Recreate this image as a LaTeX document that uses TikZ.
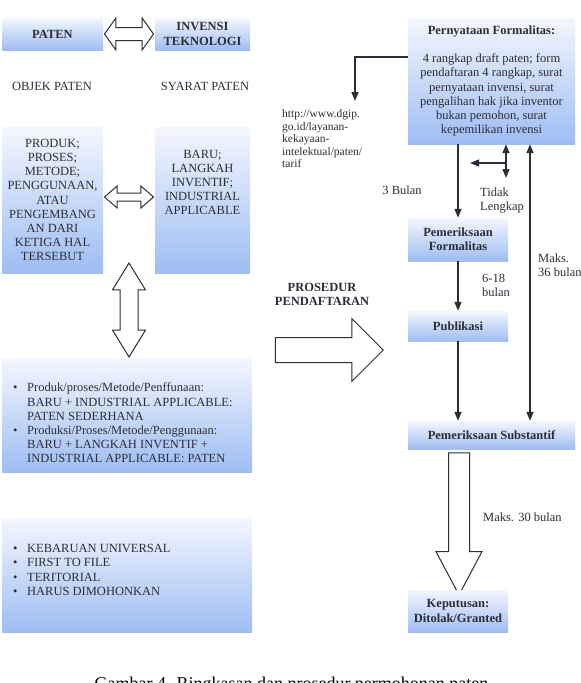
\documentclass[tikz,border=0pt]{standalone}
\usepackage{fontspec}
\setmainfont{Liberation Serif}
\usetikzlibrary{arrows.meta, shapes.arrows, positioning}
\definecolor{boxtop}{RGB}{243,247,254}
\definecolor{boxbot}{RGB}{158,189,243}
\definecolor{ink}{RGB}{45,45,55}
\newcommand{\bsize}{\fontsize{12.5}{14.2}\selectfont}
\newcommand{\ssize}{\fontsize{11.5}{12.5}\selectfont}
\newcommand{\itm}{\makebox[14pt][l]{\textbullet}}

\begin{document}
\begin{tikzpicture}[x=1pt, y=-1pt,
    >={Triangle[length=9pt,width=7pt]},
    boxnode/.style={top color=boxtop, bottom color=boxbot, draw=none, inner sep=0pt, align=center, text=ink, font=\bsize},
    plain/.style={text=ink, font=\bsize, inner sep=0pt},
    conn/.style={draw=ink, line width=1.4pt},
    hollow/.style={draw=ink, line width=1pt, fill=white, inner xsep=0pt}]
  \useasboundingbox (0,0) rectangle (581,683);

  % Left column
  \node[boxnode, minimum width=101, minimum height=32, font=\bsize\bfseries] (paten) at (52.5,34) {PATEN};
  \node[boxnode, minimum width=95, minimum height=32, font=\bsize\bfseries] (invensi) at (202.5,34) {INVENSI\\TEKNOLOGI};
  \node[plain] (objek) at (52,86) {OBJEK PATEN};
  \node[plain] (syarat) at (205,86) {SYARAT PATEN};

  \node[boxnode, minimum width=101, minimum height=146] (produk) at (52.5,200)
    {PRODUK;\\PROSES;\\METODE;\\PENGGUNAAN,\\ATAU\\PENGEMBANG\\AN DARI\\KETIGA HAL\\TERSEBUT};
  \node[boxnode, minimum width=95, minimum height=146] (baru) at (202.5,200) {};
  \node[plain, align=center] (barutext) at (202.5,182.5)
    {BARU;\\LANGKAH\\INVENTIF;\\INDUSTRIAL\\APPLICABLE};

  \node[boxnode, minimum width=250, minimum height=114] (kriteria) at (127,415) {};
  \node[plain, align=left, anchor=west] (kriteriatext) at (13,423)
    {\itm Produk/proses/Metode/Penffunaan:\\
     \hspace*{14pt}BARU + INDUSTRIAL APPLICABLE:\\
     \hspace*{14pt}PATEN SEDERHANA\\
     \itm Produksi/Proses/Metode/Penggunaan:\\
     \hspace*{14pt}BARU + LANGKAH INVENTIF +\\
     \hspace*{14pt}INDUSTRIAL APPLICABLE: PATEN};

  \node[boxnode, minimum width=250, minimum height=114] (prinsip) at (127,575) {};
  \node[plain, align=left, anchor=west] (prinsiptext) at (13,570)
    {\itm KEBARUAN UNIVERSAL\\
     \itm FIRST TO FILE\\
     \itm TERITORIAL\\
     \itm HARUS DIMOHONKAN};

  % Block arrows
  \node[hollow, double arrow, inner ysep=6, minimum height=49, minimum width=31,
        double arrow head extend=9.5, double arrow tip angle=109] (pair1) at (129,34) {};
  \node[hollow, double arrow, inner ysep=3.5, minimum height=49, minimum width=21,
        double arrow head extend=7, double arrow tip angle=82] (pair2) at (129,197) {};
  \node[hollow, double arrow, rotate=90, inner ysep=8.5, minimum height=94, minimum width=32,
        double arrow head extend=7.5, double arrow tip angle=63] (pair3) at (129,310) {};
  \node[hollow, single arrow, inner ysep=12, minimum height=108, minimum width=62,
        single arrow head extend=19, single arrow tip angle=90] (proarrow) at (323,350) {};
  \node[hollow, single arrow, rotate=-90, inner ysep=10, minimum height=142, minimum width=45,
        single arrow head extend=12.5, single arrow tip angle=56] (decarrow) at (459,514) {};
  \node[plain, font=\bsize\bfseries, align=center] (prosedur) at (322,294) {PROSEDUR\\PENDAFTARAN};

  % Right column
  \node[boxnode, minimum width=167, minimum height=126] (pern) at (491.5,81)
    {\textbf{Pernyataan Formalitas:}\\[14pt]
     4 rangkap draft paten; form\\pendaftaran 4 rangkap, surat\\pernyataan invensi, surat\\
     pengalihan hak jika inventor\\bukan pemohon, surat\\kepemilikan invensi};
  \node[boxnode, minimum width=100, minimum height=43, font=\bsize\bfseries] (pform) at (458,239.5) {Pemeriksaan\\Formalitas};
  \node[boxnode, minimum width=100, minimum height=30, font=\bsize\bfseries] (pub) at (458,326) {Publikasi};
  \node[boxnode, minimum width=167, minimum height=28, font=\bsize\bfseries] (psub) at (491.5,435) {Pemeriksaan Substantif};
  \node[boxnode, minimum width=100, minimum height=42, font=\bsize\bfseries] (kep) at (458,611) {Keputusan:\\Ditolak/Granted};

  \node[plain, font=\ssize, align=left, anchor=west] (url) at (282,139)
    {http://www.dgip.\\go.id/layanan-\\kekayaan-\\intelektual/paten/\\tarif};
  \node[plain] (tigabulan) at (402,190) {3 Bulan};
  \node[plain, align=left, anchor=west] (tidaktext) at (480,200.5) {Tidak\\Lengkap};
  \node[plain, align=left, anchor=west] (makstiga) at (538,265) {Maks.\\36 bulan};
  \node[plain, align=left, anchor=west] (enambulan) at (482,285.5) {6-18\\bulan};
  \node[plain, anchor=west] (maksdua) at (483,517) {Maks. 30 bulan};

  % Connectors
  \coordinate (urlend) at (355,101);
  \coordinate (tidak) at (506,178);
  \coordinate (tidakbr) at (506,163);
  \coordinate (tidakend) at (470,163);
  \coordinate (maksx) at (530,0);
  \draw[conn, ->] ([yshift=24pt]pern.west) -| (urlend);
  \draw[conn, ->] (pform.north |- pern.south) -- (pform.north);
  \draw[conn, <->] (pern.south -| tidak) -- (tidak);
  \draw[conn, ->] (tidakbr) -- (tidakend);
  \draw[conn, <->] (pern.south -| maksx) -- (psub.north -| maksx);
  \draw[conn, ->] (pform.south) -- (pub.north);
  \draw[conn, ->] (pub.south) -- (pub.south |- psub.north);

  % Caption
  \node[text=black, font=\fontsize{18}{20}\selectfont, anchor=base, inner sep=0pt] (caption) at (291.5,689)
    {Gambar 4. Ringkasan dan prosedur permohonan paten};
\end{tikzpicture}
\end{document}
